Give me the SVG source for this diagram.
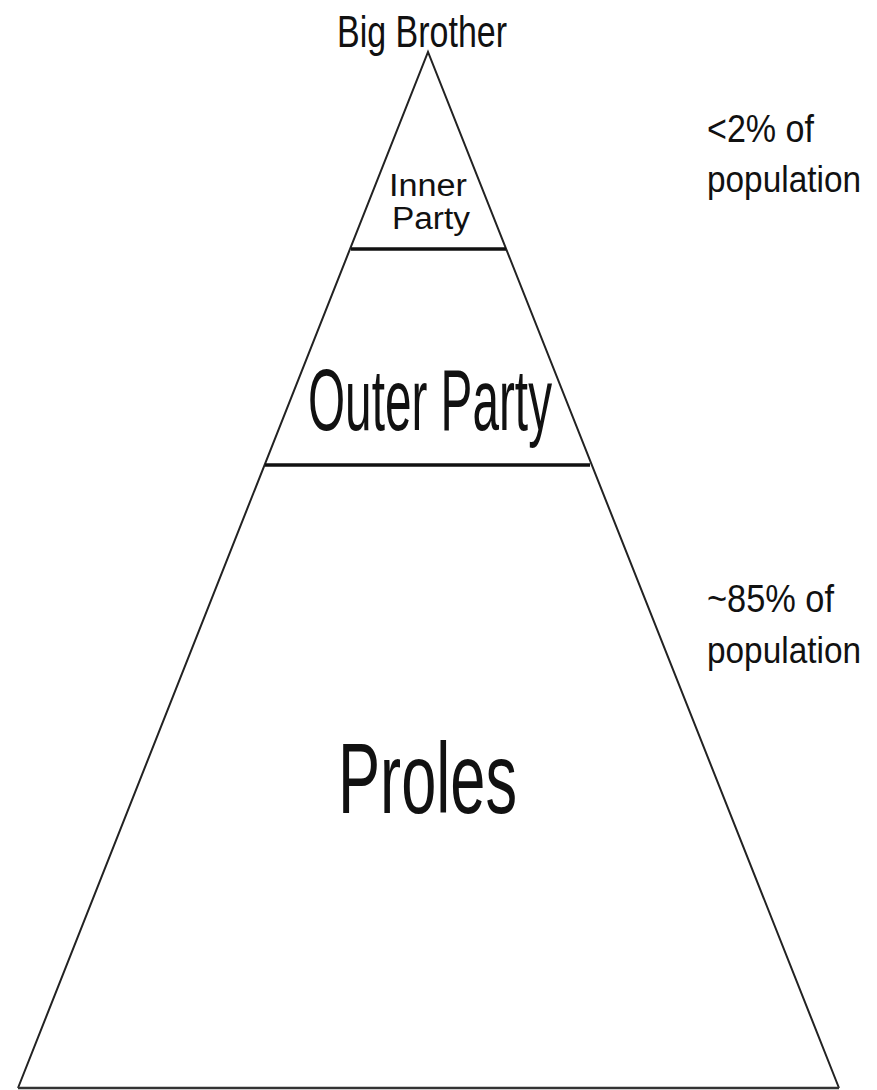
<svg xmlns="http://www.w3.org/2000/svg" width="877" height="1090" viewBox="0 0 877 1090">
<style>
.t{font-family:"Liberation Sans",Arial,sans-serif;fill:#111;}
.edge{stroke:#222;stroke-width:2;fill:none;}
.div{stroke:#111;stroke-width:3.5;}
</style>
<rect width="877" height="1090" fill="#fff"/>
<g id="pyramid">
<polyline class="edge" points="18,1088 428,52 839,1088"/>
<line x1="18" y1="1088" x2="839" y2="1088" stroke="#333" stroke-width="2.5"/>
</g>
<g id="connectors">
<line class="div" x1="351" y1="249" x2="506" y2="249"/>
<line class="div" x1="265" y1="465" x2="590" y2="465"/>
</g>
<g id="big-brother">
<text class="t" x="337" y="47" font-size="44" textLength="170" lengthAdjust="spacingAndGlyphs">Big Brother</text>
</g>
<g id="inner-party">
<text class="t" x="389" y="196" font-size="31" textLength="78" lengthAdjust="spacingAndGlyphs">Inner</text>
<text class="t" x="392" y="229" font-size="31" textLength="78" lengthAdjust="spacingAndGlyphs">Party</text>
</g>
<g id="outer-party">
<text class="t" x="308" y="430" font-size="88" textLength="244" lengthAdjust="spacingAndGlyphs">Outer Party</text>
</g>
<g id="proles">
<text class="t" x="338" y="813" font-size="100" textLength="179" lengthAdjust="spacingAndGlyphs">Proles</text>
</g>
<g id="label-top">
<text class="t" x="707" y="142" font-size="38" textLength="107" lengthAdjust="spacingAndGlyphs">&lt;2% of</text>
<text class="t" x="707" y="192" font-size="36" textLength="154" lengthAdjust="spacingAndGlyphs">population</text>
</g>
<g id="label-bottom">
<text class="t" x="707" y="612" font-size="38" textLength="127" lengthAdjust="spacingAndGlyphs">~85% of</text>
<text class="t" x="707" y="663" font-size="36" textLength="154" lengthAdjust="spacingAndGlyphs">population</text>
</g>
</svg>
